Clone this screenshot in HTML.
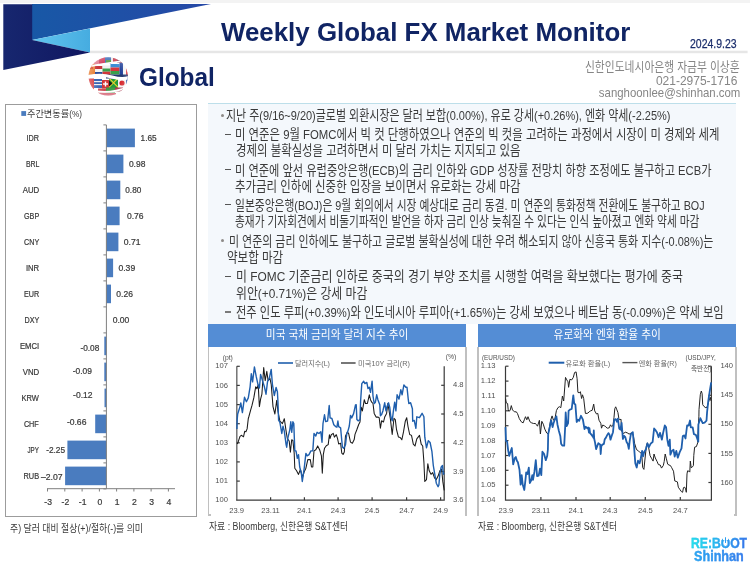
<!DOCTYPE html>
<html><head><meta charset="utf-8">
<style>
*{margin:0;padding:0;box-sizing:border-box}
html,body{width:750px;height:565px;overflow:hidden;background:#fff}
body{position:relative;font-family:"Liberation Sans","Noto Sans CJK KR",sans-serif}
.a{position:absolute;white-space:nowrap}
.kr{font-family:"Liberation Sans","Noto Sans CJK KR",sans-serif}
#title{left:221.4px;top:17.1px;font-size:26.2px;font-weight:bold;color:#102464;transform-origin:0 0;transform:scaleX(0.988)}
#glob{left:138.5px;top:62.8px;font-size:25px;font-weight:bold;color:#102464;transform:scaleX(0.975);transform-origin:0 0}
#date{left:690.2px;top:37.2px;font-size:12.7px;color:#1a2d6c;transform:scaleX(0.826);transform-origin:0 0;-webkit-text-stroke:0.25px #1a2d6c}
.info{color:#868686;font-size:13px;line-height:15px;right:10px;text-align:right;transform-origin:100% 50%}
#tb{left:208px;top:103px;width:528px;height:221px;background:#f4f8fc;border-top:1px solid #bddfea}
.ln{position:absolute;white-space:nowrap;font-size:13.6px;line-height:18px;color:#3a3a3a;transform-origin:0 50%}
.dot{position:absolute;width:3.3px;height:3.3px;border-radius:50%;background:#8d8a88}
.dsh{position:absolute;left:225px;width:6.3px;height:1.4px;background:#555}
.hdr{position:absolute;top:323.5px;height:23.7px;background:#548dd5;color:#fff;font-size:12px;text-align:center;line-height:22px}
.hdr span{display:inline-block;transform:scaleX(0.89)}
.vb{position:absolute;width:1px;background:#c0c0c0}
.src{position:absolute;font-size:10px;color:#3a3a3a;white-space:nowrap;transform:scaleX(0.88);transform-origin:0 0}
</style></head><body>
<!-- top band -->
<div class="a" style="left:0;top:0;width:750px;height:3px;background:#f3f3f3"></div>
<svg class="a" style="left:0;top:0" width="750" height="100">
 <defs>
  <linearGradient id="gm" x1="0" x2="1" y1="0" y2="0"><stop offset="0" stop-color="#1858a6"/><stop offset="1" stop-color="#2648a6"/></linearGradient>
  <linearGradient id="gl" x1="0" x2="1" y1="0" y2="0"><stop offset="0" stop-color="#62c6ef"/><stop offset="1" stop-color="#46ace0"/></linearGradient>
  <linearGradient id="gn" x1="0" x2="1" y1="0" y2="0"><stop offset="0" stop-color="#17276f"/><stop offset="1" stop-color="#101660"/></linearGradient>
 </defs>
 <rect x="90" y="50.7" width="657.6" height="2.5" fill="#e6e6e6"/>
 <polygon points="32,4.1 211,4.1 32,40" fill="url(#gm)"/>
 <polygon points="32,40 90,28.5 90,52.5" fill="url(#gl)"/>
 <polygon points="3.3,4.3 32.2,4.3 32.2,40 90,52.5 3.3,70" fill="url(#gn)"/>
</svg>
<div id="title" class="a">Weekly Global FX Market Monitor</div>
<div id="date" class="a">2024.9.23</div>
<div class="a info" id="i1" style="top:59px;right:10.5px;transform:scaleX(0.829)">신한인도네시아은행 자금부 이상훈</div>
<div class="a info" id="i2" style="top:73.6px;right:12.7px;font-size:12px">021-2975-1716</div>
<div class="a info" id="i3" style="top:84.8px;right:9.8px;transform:scaleX(0.877)">sanghoonlee@shinhan.com</div>
<div id="glob" class="a">Global</div>
<svg class="a" style="left:86px;top:55px" width="45" height="43" viewBox="86 55 45 43">
 <defs><clipPath id="gc"><ellipse cx="108.2" cy="76.4" rx="19.6" ry="19.2"/></clipPath>
 <radialGradient id="gs" cx="0.5" cy="0.5" r="0.5"><stop offset="0.7" stop-color="#fff" stop-opacity="0"/><stop offset="1" stop-color="#fff" stop-opacity="0.2"/></radialGradient></defs>
 <g clip-path="url(#gc)">
  <rect x="86" y="55" width="45" height="43" fill="#fff"/>
  <!-- top band -->
  <rect x="92" y="56" width="7" height="9" fill="#e07a8c"/>
  <rect x="99" y="56" width="6" height="8" fill="#d0405e"/>
  <rect x="105" y="56" width="6" height="8" fill="#3d6fb8"/>
  <rect x="111" y="56" width="6" height="7" fill="#e8e8e8"/>
  <rect x="113" y="58" width="4" height="4" fill="#c83a4a"/>
  <rect x="117" y="56" width="10" height="7" fill="#7a3050"/>
  <rect x="106" y="60" width="5" height="3" fill="#5aa04a"/>
  <!-- upper band -->
  <rect x="86" y="64" width="9" height="11" fill="#e8823a"/>
  <rect x="89" y="65" width="4" height="4" fill="#d94a2a"/>
  <rect x="95" y="66" width="7.5" height="3" fill="#c8353a"/>
  <rect x="95" y="69" width="7.5" height="3" fill="#f4f4f4"/>
  <rect x="95" y="72" width="7.5" height="3" fill="#2d4d9a"/>
  <rect x="102.5" y="65.5" width="8" height="3" fill="#f0f0f0"/>
  <rect x="102.5" y="68.5" width="8" height="3.2" fill="#3aa04c"/>
  <rect x="102.5" y="71.7" width="8" height="3.3" fill="#d2373a"/>
  <rect x="110.5" y="64" width="9" height="3.5" fill="#3b8fd6"/>
  <rect x="110.5" y="67.5" width="9" height="3.5" fill="#d6373e"/>
  <rect x="110.5" y="71" width="9" height="3.5" fill="#3aa04c"/>
  <rect x="119.5" y="63" width="3.5" height="13" fill="#24439a"/>
  <rect x="123" y="63" width="3" height="13" fill="#f4f4f4"/>
  <rect x="126" y="63" width="4" height="13" fill="#d6373e"/>
  <rect x="106" y="74.5" width="24" height="4" fill="#23386f"/>
  <!-- lower band -->
  <rect x="86" y="78.5" width="8" height="11" fill="#d8474a"/>
  <rect x="94" y="79" width="8" height="9" fill="#3a66b4"/>
  <rect x="94" y="81" width="8" height="1.2" fill="#f0f0f0"/>
  <rect x="94" y="84" width="8" height="1.2" fill="#f0f0f0"/>
  <rect x="102" y="80" width="7" height="8.5" fill="#d3363a"/>
  <rect x="104.8" y="81.5" width="1.4" height="5" fill="#fff"/>
  <rect x="103" y="83.3" width="5" height="1.4" fill="#fff"/>
  <rect x="109" y="79" width="9" height="9" fill="#239a3a"/>
  <polygon points="109,79 118,88 118,86.5 110.5,79" fill="#f1d42a"/>
  <polygon points="109,88 118,79 116.5,79 109,86.5" fill="#f1d42a"/>
  <polygon points="109,80.5 112.5,83.5 109,86.5" fill="#1a1a1a"/>
  <rect x="118" y="79" width="8" height="8.5" fill="#f6f6f6"/>
  <circle cx="122" cy="83" r="2.6" fill="#d6282e"/>
  <rect x="126" y="78" width="5" height="9" fill="#3a60b0"/>
  <rect x="98" y="88.5" width="8" height="4" fill="#c84a52"/>
  <rect x="106" y="87.5" width="9" height="5" fill="#3f9a48"/>
  <rect x="115" y="87.5" width="8" height="4" fill="#a8364a"/>
  <rect x="96" y="93" width="20" height="4" fill="#d66878"/>
  <!-- white gaps -->
  <path d="M86,67 Q106,63 131,60" stroke="#fff" stroke-width="1.7" fill="none"/>
  <path d="M86,77.2 Q100,73.8 112,77 T131,76.8" stroke="#fff" stroke-width="3.3" fill="none"/>
  <path d="M86,89 Q108,96 131,86" stroke="#fff" stroke-width="1.8" fill="none"/>
  <ellipse cx="108.2" cy="76.4" rx="19.6" ry="19.2" fill="url(#gs)"/>
 </g>
</svg>


<!-- left panel -->
<div class="a" style="left:5px;top:104px;width:191.7px;height:412.6px;border:1.4px solid #9c9c9c"></div>
<!--BAR-->
<svg class="a" style="left:0;top:0" width="200" height="540" font-family="Liberation Sans, sans-serif">
<g fill="#4a7cbf">
<rect x="106.4" y="128.6" width="28.5" height="18.6"/>
<rect x="106.4" y="154.6" width="17.0" height="18.6"/>
<rect x="106.4" y="180.6" width="13.9" height="18.6"/>
<rect x="106.4" y="206.6" width="13.2" height="18.6"/>
<rect x="106.4" y="232.6" width="12.0" height="18.6"/>
<rect x="106.4" y="258.6" width="6.7" height="18.6"/>
<rect x="106.4" y="284.6" width="4.6" height="18.6"/>
<rect x="104.3" y="336.6" width="2.1" height="18.6"/>
<rect x="104.3" y="362.6" width="2.1" height="18.6"/>
<rect x="104.5" y="388.6" width="1.9" height="18.6"/>
<rect x="95.2" y="414.6" width="11.2" height="18.6"/>
<rect x="67.4" y="440.6" width="39.0" height="18.6"/>
<rect x="65.1" y="466.6" width="41.3" height="18.6"/>
</g>
<g stroke="#7f7f7f" stroke-width="1" fill="none">
<line x1="106.4" y1="124.9" x2="106.4" y2="488.7"/>
<line x1="103.4" y1="124.9" x2="106.4" y2="124.9"/>
<line x1="103.4" y1="150.9" x2="106.4" y2="150.9"/>
<line x1="103.4" y1="176.9" x2="106.4" y2="176.9"/>
<line x1="103.4" y1="202.9" x2="106.4" y2="202.9"/>
<line x1="103.4" y1="228.9" x2="106.4" y2="228.9"/>
<line x1="103.4" y1="254.9" x2="106.4" y2="254.9"/>
<line x1="103.4" y1="280.9" x2="106.4" y2="280.9"/>
<line x1="103.4" y1="306.9" x2="106.4" y2="306.9"/>
<line x1="103.4" y1="332.9" x2="106.4" y2="332.9"/>
<line x1="103.4" y1="358.9" x2="106.4" y2="358.9"/>
<line x1="103.4" y1="384.9" x2="106.4" y2="384.9"/>
<line x1="103.4" y1="410.9" x2="106.4" y2="410.9"/>
<line x1="103.4" y1="436.9" x2="106.4" y2="436.9"/>
<line x1="103.4" y1="462.9" x2="106.4" y2="462.9"/>
<line x1="103.4" y1="488.9" x2="106.4" y2="488.9"/>
<line x1="47" y1="488.7" x2="175" y2="488.7"/>
<line x1="47.5" y1="488.7" x2="47.5" y2="491.5"/>
<line x1="64.8" y1="488.7" x2="64.8" y2="491.5"/>
<line x1="82.1" y1="488.7" x2="82.1" y2="491.5"/>
<line x1="99.4" y1="488.7" x2="99.4" y2="491.5"/>
<line x1="116.6" y1="488.7" x2="116.6" y2="491.5"/>
<line x1="133.9" y1="488.7" x2="133.9" y2="491.5"/>
<line x1="151.1" y1="488.7" x2="151.1" y2="491.5"/>
<line x1="168.4" y1="488.7" x2="168.4" y2="491.5"/>
</g>
<g fill="#3a3a3a" font-size="8.6" stroke="#3a3a3a" stroke-width="0.22">
<text x="26.6" y="141.4" textLength="12.5" lengthAdjust="spacingAndGlyphs">IDR</text>
<text x="25.9" y="167.4" textLength="13.5" lengthAdjust="spacingAndGlyphs">BRL</text>
<text x="22.7" y="193.4" textLength="16.5" lengthAdjust="spacingAndGlyphs">AUD</text>
<text x="24" y="219.4" textLength="15.2" lengthAdjust="spacingAndGlyphs">GBP</text>
<text x="24" y="245.4" textLength="15.2" lengthAdjust="spacingAndGlyphs">CNY</text>
<text x="25.9" y="271.4" textLength="13.3" lengthAdjust="spacingAndGlyphs">INR</text>
<text x="24" y="297.4" textLength="15.2" lengthAdjust="spacingAndGlyphs">EUR</text>
<text x="24.5" y="323.4" textLength="14.7" lengthAdjust="spacingAndGlyphs">DXY</text>
<text x="20" y="349.4" textLength="19.2" lengthAdjust="spacingAndGlyphs">EMCI</text>
<text x="22.7" y="375.4" textLength="16.5" lengthAdjust="spacingAndGlyphs">VND</text>
<text x="21.4" y="401.4" textLength="17.4" lengthAdjust="spacingAndGlyphs">KRW</text>
<text x="23.9" y="427.4" textLength="14.9" lengthAdjust="spacingAndGlyphs">CHF</text>
<text x="27.4" y="453.4" textLength="11.4" lengthAdjust="spacingAndGlyphs">JPY</text>
<text x="23.5" y="479.4" textLength="15.6" lengthAdjust="spacingAndGlyphs">RUB</text>
<text x="140.6" y="140.8" textLength="16.1" lengthAdjust="spacingAndGlyphs">1.65</text>
<text x="128.9" y="166.8" textLength="16.5" lengthAdjust="spacingAndGlyphs">0.98</text>
<text x="125.3" y="192.8" textLength="16.0" lengthAdjust="spacingAndGlyphs">0.80</text>
<text x="126.9" y="218.8" textLength="16.6" lengthAdjust="spacingAndGlyphs">0.76</text>
<text x="123.7" y="244.8" textLength="16.8" lengthAdjust="spacingAndGlyphs">0.71</text>
<text x="118.4" y="270.8" textLength="16.8" lengthAdjust="spacingAndGlyphs">0.39</text>
<text x="116.3" y="296.8" textLength="16.6" lengthAdjust="spacingAndGlyphs">0.26</text>
<text x="112.7" y="322.6" textLength="16.7" lengthAdjust="spacingAndGlyphs">0.00</text>
<text x="80.4" y="350.9" textLength="18.9" lengthAdjust="spacingAndGlyphs">-0.08</text>
<text x="72.7" y="373.5" textLength="19.2" lengthAdjust="spacingAndGlyphs">-0.09</text>
<text x="73.1" y="398.4" textLength="19.5" lengthAdjust="spacingAndGlyphs">-0.12</text>
<text x="66.9" y="425.0" textLength="19.5" lengthAdjust="spacingAndGlyphs">-0.66</text>
<text x="46.2" y="453.3" textLength="18.9" lengthAdjust="spacingAndGlyphs">-2.25</text>
<text x="40.9" y="479.5" textLength="21.6" lengthAdjust="spacingAndGlyphs">–2.07</text>
<text x="48.1" y="505.2" text-anchor="middle">-3</text>
<text x="65.4" y="505.2" text-anchor="middle">-2</text>
<text x="82.7" y="505.2" text-anchor="middle">-1</text>
<text x="100.0" y="505.2" text-anchor="middle">0</text>
<text x="117.2" y="505.2" text-anchor="middle">1</text>
<text x="134.5" y="505.2" text-anchor="middle">2</text>
<text x="151.7" y="505.2" text-anchor="middle">3</text>
<text x="169.0" y="505.2" text-anchor="middle">4</text>
</g>
<rect x="21.3" y="111.1" width="4.8" height="4.8" fill="#4a7cbf"/>
</svg>

<div class="a" style="left:27.3px;top:105.5px;font-size:9.5px;color:#3a3a3a;transform:scaleX(0.965);transform-origin:0 0">주간변동률<span style="font-size:8.5px">(%)</span></div>
<div class="a" style="left:10.4px;top:520.2px;font-size:10px;color:#3a3a3a;transform:scaleX(0.886);transform-origin:0 0">주) 달러 대비 절상(+)/절하(-)를 의미</div>
<!--/BAR-->

<!-- text box -->
<div id="tb" class="a"></div>
<div class="dot" style="left:220.8px;top:113.8px"></div>
<div class="dot" style="left:220.8px;top:238.9px"></div>
<div class="dsh" style="top:133.8px"></div>
<div class="dsh" style="top:169px"></div>
<div class="dsh" style="top:203.7px"></div>
<div class="dsh" style="top:275.9px"></div>
<div class="dsh" style="top:311px;height:2px;background:#7a7a7a"></div>
<div class="ln" style="left:226.2px;top:106.9px;transform:scaleX(0.8072)">지난 주(9/16~9/20)글로벌 외환시장은 달러 보합(0.00%), 유로 강세(+0.26%), 엔화 약세(-2.25%)</div>
<div class="ln" style="left:235.3px;top:126.1px;transform:scaleX(0.8361)">미 연준은 9월 FOMC에서 빅 컷 단행하였으나 연준의 빅 컷을 고려하는 과정에서 시장이 미 경제와 세계</div>
<div class="ln" style="left:235.5px;top:142.3px;transform:scaleX(0.8390)">경제의 불확실성을 고려하면서 미 달러 가치는 지지되고 있음</div>
<div class="ln" style="left:235.3px;top:161.8px;transform:scaleX(0.8255)">미 연준에 앞선 유럽중앙은행(ECB)의 금리 인하와 GDP 성장률 전망치 하향 조정에도 불구하고 ECB가</div>
<div class="ln" style="left:234.8px;top:177.6px;transform:scaleX(0.8422)">추가금리 인하에 신중한 입장을 보이면서 유로화는 강세 마감</div>
<div class="ln" style="left:235.4px;top:196.5px;transform:scaleX(0.7908)">일본중앙은행(BOJ)은 9월 회의에서 시장 예상대로 금리 동결. 미 연준의 통화정책 전환에도 불구하고 BOJ</div>
<div class="ln" style="left:234.8px;top:212.9px;transform:scaleX(0.7863)">총재가 기자회견에서 비둘기파적인 발언을 하자 금리 인상 늦춰질 수 있다는 인식 높아졌고 엔화 약세 마감</div>
<div class="ln" style="left:229.0px;top:232.5px;transform:scaleX(0.8053)">미 연준의 금리 인하에도 불구하고 글로벌 불확실성에 대한 우려 해소되지 않아 신흥국 통화 지수(-0.08%)는</div>
<div class="ln" style="left:226.8px;top:248.8px;transform:scaleX(0.8475)">약보합 마감</div>
<div class="ln" style="left:235.5px;top:268.4px;transform:scaleX(0.8753)">미 FOMC 기준금리 인하로 중국의 경기 부양 조치를 시행할 여력을 확보했다는 평가에 중국</div>
<div class="ln" style="left:235.5px;top:284.9px;transform:scaleX(0.8716)">위안(+0.71%)은 강세 마감</div>
<div class="ln" style="left:235.5px;top:303.5px;transform:scaleX(0.8285)">전주 인도 루피(+0.39%)와 인도네시아 루피아(+1.65%)는 강세 보였으나 베트남 동(-0.09%)은 약세 보임</div>







<!-- chart headers -->
<div class="hdr" style="left:208px;width:258px"><span>미국 국채 금리와 달러 지수 추이</span></div>
<div class="hdr" style="left:478px;width:258px"><span>유로화와 엔화 환율 추이</span></div>
<div class="vb" style="left:207.6px;top:347px;height:168.6px;width:1.6px"></div>
<div class="vb" style="left:207.6px;top:514.4px;height:1.2px;width:3px"></div>
<div class="vb" style="left:465px;top:347px;height:168.6px;width:1.8px"></div>
<div class="vb" style="left:477.1px;top:347px;height:168.6px;width:1.8px"></div>
<div class="vb" style="left:735px;top:347px;height:168.6px;width:1.6px"></div>
<div class="vb" style="left:733.6px;top:514.4px;height:1.2px;width:3px"></div>
<div class="src" style="left:208.5px;top:518px">자료 : Bloomberg, 신한은행 S&amp;T센터</div>
<div class="src" style="left:478px;top:518px">자료 : Bloomberg, 신한은행 S&amp;T센터</div>
<div class="a" id="rb1" style="left:690.6px;top:535.2px;font-size:14.9px;line-height:16px;font-weight:bold;transform:scaleX(0.816);transform-origin:0 0;background:linear-gradient(90deg,#25e3ea 0%,#28c4ee 35%,#2b9cef 60%,#3d6ee9 100%);-webkit-background-clip:text;background-clip:text;color:transparent;-webkit-text-stroke:0.35px rgba(43,170,238,0.6)">RE:BOOT</div>
<div class="a" style="left:722.9px;top:537.2px;width:5.3px;height:2.6px;background:#fff"></div>
<div class="a" style="left:724.7px;top:537px;width:1.7px;height:5.8px;background:#2b9cef;border-radius:1px"></div>
<div class="a" id="rb2" style="left:694.1px;top:547.5px;font-size:14.8px;line-height:16px;font-weight:bold;transform:scaleX(0.853);transform-origin:0 0;background:linear-gradient(90deg,#29a9f1 0%,#3a7dec 100%);-webkit-background-clip:text;background-clip:text;color:transparent;-webkit-text-stroke:0.35px rgba(50,140,238,0.6)">Shinhan</div>
<!--FRAME-->
<svg class="a" style="left:0;top:0" width="750" height="565" font-family="Liberation Sans, Noto Sans CJK KR, sans-serif">
<g stroke="#3a3a3a" stroke-width="1.2" fill="none">
<path d="M236.8,366.3 V500.2" stroke="#6a6a6a" stroke-width="1.4"/>
<path d="M236.20000000000002,500.2 H444.2 V366.3"/>
<path d="M236.8,366.3 h3"/>
<path d="M236.8,385.4 h3"/>
<path d="M236.8,404.6 h3"/>
<path d="M236.8,423.7 h3"/>
<path d="M236.8,442.8 h3"/>
<path d="M236.8,461.9 h3"/>
<path d="M236.8,481.1 h3"/>
<path d="M444.2,471.5 h-3"/>
<path d="M444.2,442.7 h-3"/>
<path d="M444.2,414.0 h-3"/>
<path d="M444.2,385.3 h-3"/>
<path d="M270.6,500.2 v-3"/>
<path d="M304.4,500.2 v-3"/>
<path d="M338.1,500.2 v-3"/>
<path d="M372.1,500.2 v-3"/>
<path d="M406.6,500.2 v-3"/>
<path d="M440.6,500.2 v-3"/>
</g>
<g fill="#505050" font-size="7.6">
<text x="228" y="368.4" text-anchor="end">107</text>
<text x="228" y="387.5" text-anchor="end">106</text>
<text x="228" y="406.7" text-anchor="end">105</text>
<text x="228" y="425.8" text-anchor="end">104</text>
<text x="228" y="444.9" text-anchor="end">103</text>
<text x="228" y="464.0" text-anchor="end">102</text>
<text x="228" y="483.2" text-anchor="end">101</text>
<text x="228" y="502.3" text-anchor="end">100</text>
<text x="453" y="502.3">3.6</text>
<text x="453" y="473.6">3.9</text>
<text x="453" y="444.8">4.2</text>
<text x="453" y="416.1">4.5</text>
<text x="453" y="387.4">4.8</text>
<text x="236.7" y="513.4" text-anchor="middle">23.9</text>
<text x="270.6" y="513.4" text-anchor="middle">23.11</text>
<text x="304.4" y="513.4" text-anchor="middle">24.1</text>
<text x="338.1" y="513.4" text-anchor="middle">24.3</text>
<text x="372.1" y="513.4" text-anchor="middle">24.5</text>
<text x="406.6" y="513.4" text-anchor="middle">24.7</text>
<text x="440.6" y="513.4" text-anchor="middle">24.9</text>
<text x="222.7" y="360" font-size="6.8">(pt)</text>
<text x="445.7" y="359.2" font-size="6.8">(%)</text>
</g>
<path d="M278,363 h15" stroke="#1f5fad" stroke-width="1.6"/>
<path d="M341,363 h14.6" stroke="#555" stroke-width="1.6"/>
<g fill="#6a6a6a" font-size="7.4"><text x="295" y="366" textLength="35" lengthAdjust="spacingAndGlyphs">달러지수(L)</text><text x="358" y="366" textLength="52" lengthAdjust="spacingAndGlyphs">미국10Y 금리(R)</text></g>
<g stroke="#3a3a3a" stroke-width="1.2" fill="none">
<path d="M505.5,366.2 V500.1 H711.4 V366.2"/>
<path d="M505.5,366.2 h3"/>
<path d="M505.5,381.1 h3"/>
<path d="M505.5,396.0 h3"/>
<path d="M505.5,410.8 h3"/>
<path d="M505.5,425.7 h3"/>
<path d="M505.5,440.6 h3"/>
<path d="M505.5,455.5 h3"/>
<path d="M505.5,470.3 h3"/>
<path d="M505.5,485.2 h3"/>
<path d="M711.4,366.2 h-3"/>
<path d="M711.4,395.3 h-3"/>
<path d="M711.4,424.3 h-3"/>
<path d="M711.4,453.4 h-3"/>
<path d="M711.4,482.5 h-3"/>
<path d="M540.9,500.1 v-3"/>
<path d="M576,500.1 v-3"/>
<path d="M610.2,500.1 v-3"/>
<path d="M645.3,500.1 v-3"/>
<path d="M680.3,500.1 v-3"/>
</g>
<g fill="#505050" font-size="7.6">
<text x="495.5" y="368.3" text-anchor="end">1.13</text>
<text x="495.5" y="383.2" text-anchor="end">1.12</text>
<text x="495.5" y="398.1" text-anchor="end">1.11</text>
<text x="495.5" y="412.9" text-anchor="end">1.10</text>
<text x="495.5" y="427.8" text-anchor="end">1.09</text>
<text x="495.5" y="442.7" text-anchor="end">1.08</text>
<text x="495.5" y="457.6" text-anchor="end">1.07</text>
<text x="495.5" y="472.4" text-anchor="end">1.06</text>
<text x="495.5" y="487.3" text-anchor="end">1.05</text>
<text x="495.5" y="502.2" text-anchor="end">1.04</text>
<text x="720.4" y="368.3">140</text>
<text x="720.4" y="397.4">145</text>
<text x="720.4" y="426.4">150</text>
<text x="720.4" y="455.5">155</text>
<text x="720.4" y="484.6">160</text>
<text x="505.9" y="513.4" text-anchor="middle">23.9</text>
<text x="540.9" y="513.4" text-anchor="middle">23.11</text>
<text x="576" y="513.4" text-anchor="middle">24.1</text>
<text x="610.2" y="513.4" text-anchor="middle">24.3</text>
<text x="645.3" y="513.4" text-anchor="middle">24.5</text>
<text x="680.3" y="513.4" text-anchor="middle">24.7</text>
<text x="481.9" y="360.4" font-size="6.8" textLength="33" lengthAdjust="spacingAndGlyphs">(EUR/USD)</text>
<text x="685.5" y="359.8" font-size="6.8" textLength="30.2" lengthAdjust="spacingAndGlyphs">(USD/JPY,</text>
<text x="691" y="371" font-size="6.8" textLength="20.6" lengthAdjust="spacingAndGlyphs">축반전)</text>
</g>
<path d="M548.7,362.7 h15.6" stroke="#1f5fad" stroke-width="2"/>
<path d="M622.4,362.6 h15" stroke="#555" stroke-width="1.4"/>
<g fill="#6a6a6a" font-size="7.4"><text x="565.5" y="365.6" textLength="44.8" lengthAdjust="spacingAndGlyphs">유로화 환율(L)</text><text x="638.8" y="365.6" textLength="38" lengthAdjust="spacingAndGlyphs">엔화 환율(R)</text></g>
<!--LINES-->
<polyline fill="none" stroke="#1a1a1a" stroke-width="1.05" stroke-linejoin="round" points="237.2,444 238,442.4 240,436.4 241.6,435.3 243.5,436.8 244.7,431.3 245.9,431.7 247.1,428.9 248.3,418.5 248.9,416.5 250.7,409.8 252,405.4 253.8,397.9 255.7,386.8 256.9,388.6 258.2,384.9 259.4,406.6 260.6,399.2 261.9,394.2 263.7,367.6 265.2,380.6 266.8,371.3 268.1,380.6 269.9,378.1 271.2,384.3 273,406.6 274.9,414 276.7,400.4 278,411.6 279.9,421.2 282.4,423.6 284.3,418.7 286.1,431.1 287.3,438.5 289.2,441 290.4,452.1 291.7,439.7 292.9,440.4 294.2,453.4 294.8,468.2 296.6,470.7 298.5,474.4 300.4,469.5 302.5,477.5 304.1,472 305.9,468.2 307.8,459.6 310.3,459.6 311.5,467 312.8,467 314,450.9 315.8,449.7 317.7,445.9 319.6,449.7 321.4,455.8 322.3,473.2 323.3,454.6 324.5,448.3 326.3,445.8 328.2,444.6 329.4,434.7 330.1,438.4 331.3,434.7 333.2,433.4 334.4,437.1 336.3,434.7 337.5,438.4 338.7,444 340.6,443.3 341.8,453.2 343.1,454.5 344.3,452 345.5,435.9 347.4,432.2 348.6,433.4 350.5,442.1 352.4,443.3 354.2,439.6 355,434.4 356.9,429.5 358.7,424.5 360,422 361.2,407.2 362.4,410.9 364.3,399.7 365.5,403.5 367.4,403.5 369.3,394.8 370.5,399.7 371.7,402.2 373,403.5 374.2,413.4 376.1,417.1 377.9,417.1 379.2,417.7 380.4,428.2 381.6,420.8 383.5,422 384.7,417.1 386.6,413.4 387.8,403.5 389.1,410.9 390.3,418.3 392.2,434.4 394,418.3 395.3,419.6 396.5,429.5 398.4,436.9 400.2,437.5 401.8,439.8 403.5,431.9 405.3,421.2 406.7,417.7 408,426.5 409.7,434.5 411.5,435.4 413.3,444.2 415,446 416.8,438.9 419.5,435.4 421.2,444.2 422.7,446 423.9,461.9 424.8,481.4 426.5,479.6 427.8,463.7 429.2,470.8 431,474.3 432.7,472.6 434.5,477.9 436.3,479.6 438.1,476.1 439.8,470.8 441.6,469 442.8,481.4 444.2,490.3"/>
<polyline fill="none" stroke="#1f5fad" stroke-width="1.4" stroke-linejoin="round" points="236.9,428.9 237.2,419.3 237.7,414 240,406.6 240.8,402.9 242.4,412.6 244.5,397.3 246.4,401.7 248.3,397.9 250.1,386.8 251.3,373.8 252.6,381.8 254.4,367 256.3,376.9 258.2,385.5 259.4,388 260.6,374.4 262.5,380.6 264.4,386.8 266,394.2 267.5,381.8 269.3,378.1 271.2,369.4 272.4,384.3 274.3,395.5 276.1,387.4 277.4,391.7 278,402.9 278.6,420.2 279.9,422.4 281.8,433.5 283,426.1 284.3,431.1 286.1,444.7 286.7,447.2 288,437.3 289.8,429.8 290.8,421.8 291.7,432.3 292.9,421.8 293.8,423.6 294.8,450.9 296,450.9 297.3,458.3 298.5,454.6 299.7,467 301.3,473 302.3,481.5 303.4,474 304.3,467.5 305.9,453.4 307.2,455.8 309,454.6 310.9,450.9 312.8,450.9 314,433.5 315.8,436 317.1,432.3 318.9,433.5 320.8,431.7 322,442.2 323,423.5 324.5,414.8 325.7,421.6 327.6,421 329.2,405.5 330.1,417.9 331.9,418.5 333.8,424.7 335.6,426.6 336.9,427.2 337.9,421 338.7,426.6 340.6,427.8 341.8,440.8 342.4,447 343.7,448.3 345.5,444.6 346.8,433.4 348,430.9 349.3,426 350.5,415.4 351.7,417.9 353.6,413.6 355.5,404.9 356.2,404.7 356.9,419.6 358.1,420.8 360,419.6 360.6,401 361.8,383.6 363.7,381.2 364.9,383.6 366.8,382.4 368,388.6 369.3,387.3 370.5,392.3 372.1,381.2 373,396 374.2,403.5 375.4,402.2 376.7,394.8 377.9,399.7 379.8,404.7 380.4,415.8 381.6,414.6 382.9,410.9 384.7,402.8 386,410.9 387.2,405.9 388.5,402.8 389.7,407.2 390.9,417.1 392.2,420.8 393.4,410.9 394.7,402.2 395.9,410.9 397.1,394.8 399,399.1 400.8,389.8 402.1,394.8 403.9,384.9 405.8,387.3 407,387.3 408.3,399.7 408.8,403.5 410.6,402.7 412.4,408.8 412.7,421.2 414.2,420.4 415.9,428.3 416.8,416.8 419.5,417.7 422.1,413.3 423.9,416.8 424.8,437.2 426.5,447.8 428.3,440.7 430.1,442.5 431.9,451.3 433.3,465.5 434.5,472.6 436.3,483.2 438.1,486.7 438.9,485 439.8,474.3 441.1,467.3 442.5,465.5 443.4,474.3 444.2,472.6"/>
<polyline fill="none" stroke="#222" stroke-width="1.0" stroke-linejoin="round" points="505.5,398.6 506.3,402.9 507.6,403.5 508.2,409.7 508.8,411.2 510.1,410.5 511.3,405.6 512.5,409.9 514.4,411.8 516.3,411.8 517.5,413.6 519.3,418.6 521.2,421.7 523.1,422.9 524.3,419.8 525.5,416.7 526.8,419.8 528,416.7 529.9,421.7 531.7,422.9 533.6,423.5 535.5,423.5 536,424.2 537.5,426.2 539.4,420.3 540.4,434 541.8,421.3 543.3,424.2 544.8,429.1 546.7,433 548.2,434 549.1,429.1 550.6,420.3 552.1,415.9 553.5,420.3 555,418.4 556.4,410.6 557.9,407.7 559.4,406.7 560.8,407.7 561.8,400.8 562.4,396 563.7,401 565.5,377.4 566.8,379.9 568,381.8 568.6,387.3 569.9,379.3 571.7,379.9 573.3,377.4 574.6,372.5 576.1,371.9 577.1,378.7 577.9,392.3 579.2,392.9 580.4,391.7 581.6,398.5 582.5,394.8 583.7,398.5 585.4,413.4 587.2,413.4 589.1,412.1 590.3,410.9 592.2,410.3 593.7,404.1 594.7,410.9 596.5,414 597.8,413.4 599,420.2 600.8,423.3 601.5,428.2 602.7,425.1 604.6,425.8 605.8,427 607.3,428.2 609.2,427.9 610.5,424.8 611.7,426.6 613,425.4 614,417.3 614.8,408.7 615.7,406.8 616.9,409.9 617.9,412.4 618.9,418.6 619.8,419.8 621,419.2 621.6,431 623.5,433.5 625.3,432.2 627.2,432.8 629.1,434.1 630.3,433.5 632.2,432.8 633.4,435.9 634.6,443.4 636.5,449.6 638.4,450.8 640.2,452.7 641.7,453.3 642.7,467.5 643.9,469.4 645.2,457 646.4,445.8 647.4,442.8 648.3,445.8 650.1,455.8 651.8,458.8 653.1,461.1 654,454 655.3,458 657.1,461.5 658.4,464.6 660.2,465 661.5,468.1 663.3,465.5 664.2,461.5 665.2,454 666.4,458.8 667.7,464.2 669,465 670.4,465.5 671.7,467.7 673.5,471.2 674.8,481 676.1,481.4 677.4,481.9 678.3,487.2 680.1,489.8 681.4,491.6 682.6,492.3 683.5,487.6 684.7,487.2 685.6,488.9 686.3,492.3 687,473.9 687.6,470.8 688.9,471.2 689.8,472.1 690.3,461.1 691.2,467.7 692.5,466.8 693.4,465.5 693.8,455.3 694.6,447.2 696.4,446.6 697.7,442.8 697.9,434.8 698.9,416.2 699,409.6 700.3,394.7 701.3,391 702.1,393.5 702.7,404.6 704,406.5 705.8,407.7 707.1,407.1 708.9,400.9 710.2,397.2 711,400.9"/>
<polyline fill="none" stroke="#1f5fad" stroke-width="1.8" stroke-linejoin="round" points="505.5,427.1 506,441 507.1,441.6 508.2,450.6 509.2,455.9 510.5,451.7 511.8,448 513.2,464.4 514.8,458.1 515.8,457 516.9,460.7 517.9,462.3 519.5,469.8 520.6,484.6 521.7,475.1 522.7,484.6 524.3,490 525.4,480.4 526.2,472.4 527.5,474 528.8,467.6 529.8,483 531.2,480.4 532.3,475.1 533,479.9 534.4,471.9 535.8,460.2 537.1,476.1 538.7,475.6 540,468.7 541.3,475.1 542.4,451.7 544,453.8 545.8,460.2 547.2,455.9 547.9,449.5 548.2,434 549.6,428.1 551.1,420.3 552.6,427.1 553.5,423.2 555,419.3 556.4,416.4 557.4,424.2 558.9,431 560.3,435.9 561.1,443.7 562.3,445.6 564.2,445.6 565.2,426.2 565.7,412.5 566.7,426.2 568.1,423.2 568.6,410.9 569.9,409.7 571.7,409 573.3,395.4 574.2,403.5 575.4,404.7 576.7,422 577.9,419.6 579.2,420.8 581,415.8 582.9,419.6 584.5,429 585.6,426.7 587.1,428.2 588.2,427.5 589,432.7 589.4,428.2 590.1,433.1 591.6,434.9 592.7,436.4 593.5,437.9 593.8,430.5 594.2,438.7 595,442.4 596.1,449.1 597.2,446.1 598.3,443.2 599.4,443.9 600.2,444.6 600.7,454 601.3,446.1 602.4,444.6 603.9,443.9 604.7,439.4 605.8,437.9 607.3,434.9 608.4,433.1 609.5,434.7 610.5,439.7 611.7,435.9 613,432.2 614.2,419.8 615.7,419.2 616.9,421.7 617.9,418.6 619.2,428.5 620.4,429.7 621.6,422.9 622.9,439 624.1,435.9 625.3,437.2 626.6,442.1 627.8,444 628.8,448.9 629.7,440.9 630.9,434.1 632.8,432.2 634,445.8 635.3,463.2 636.7,467.5 638,460.7 639.6,463.2 640.8,458.2 642.1,450.8 643.1,456.4 644.2,452 645.8,449.6 647.4,443.4 648.9,447.1 650.8,443.4 652.6,442.1 654.1,428.5 655.7,430.4 656.9,432.2 658.6,437.2 660,432.8 661.9,439.7 663,433.5 664.8,425.5 666.1,427.3 667.3,439.7 668.5,445.9 669.8,439.7 670.4,454.6 671.9,450.9 673.5,449.7 674.7,456.5 676.3,450.9 677.8,457.7 679.7,452.1 681.5,448.4 682.8,436 684.3,435.4 685.5,438.5 687.1,425.5 688.7,425.5 690,420.5 690.8,427.3 692.7,427.3 693.9,434.2 695.8,434.8 697,437.9 698.3,441.6 698.4,424.4 700.3,418.2 701.5,420.7 702.7,423.2 704.6,422.6 706.5,420.7 707.1,412 708.3,400.9 709.6,392.2 710.2,388.5 711.2,382.3"/>
<!--/LINES-->
</svg>

<!--/FRAME-->
</body></html>
